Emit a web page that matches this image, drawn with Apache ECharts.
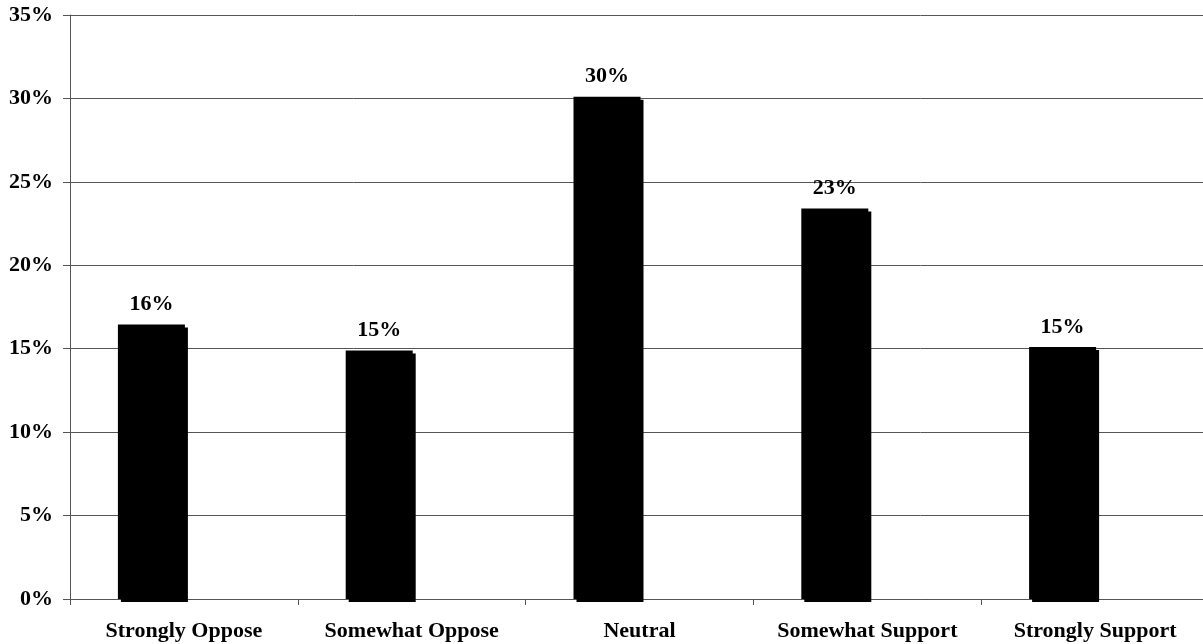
<!DOCTYPE html>
<html><head><meta charset="utf-8">
<script src="https://cdn.jsdelivr.net/npm/echarts@6/dist/echarts.min.js"></script>
<style>html,body{margin:0;padding:0;background:#fff}#c{width:1203px;height:644px}</style>
</head><body><div id="c"></div>
<script>
const categories = ["Strongly Oppose", "Somewhat Oppose", "Neutral", "Somewhat Support", "Strongly Support"];
const values = [16.45, 14.9, 30.1, 23.4, 15.1];
const yTicks = [0, 5, 10, 15, 20, 25, 30, 35];

const font = "'Liberation Serif', 'Times New Roman', serif";
const chart = echarts.init(document.getElementById('c'), null, {renderer: 'canvas'});
chart.setOption({
  animation: false,
  grid: {left: 70, width: 1139, top: 15, bottom: 45, containLabel: false, outerBoundsMode: 'none'},
  xAxis: {
    type: 'category', data: categories,
    axisLine: {lineStyle: {color: '#555', width: 1}},
    axisTick: {show: true, length: 6, interval: 0, alignWithLabel: false, lineStyle: {color: '#555'}},
    axisLabel: {color: '#000', fontFamily: font, fontWeight: 'bold', fontSize: 22, margin: 21, interval: 0}
  },
  yAxis: {
    type: 'value', min: yTicks[0], max: yTicks[yTicks.length - 1], interval: 5,
    axisLine: {show: true, lineStyle: {color: '#555', width: 1}},
    axisTick: {show: true, length: 7, lineStyle: {color: '#555'}},
    splitLine: {show: true, lineStyle: {color: '#555', width: 1}},
    axisLabel: {color: '#000', fontFamily: font, fontWeight: 'bold', fontSize: 22, margin: 17,
      formatter: v => v + '%'}
  },
  series: [
    {
      type: 'bar', data: values, barWidth: 67, barGap: '-3%',
      itemStyle: {color: '#000', shadowColor: '#000', shadowBlur: 0, shadowOffsetX: 3, shadowOffsetY: 3},
      label: {show: true, position: 'top', distance: 9, color: '#000', fontFamily: font,
        fontWeight: 'bold', fontSize: 22, formatter: p => Math.round(p.value) + '%'}
    },
    {type: 'bar', data: categories.map(() => null), barWidth: 67}
  ]
});
</script></body></html>
